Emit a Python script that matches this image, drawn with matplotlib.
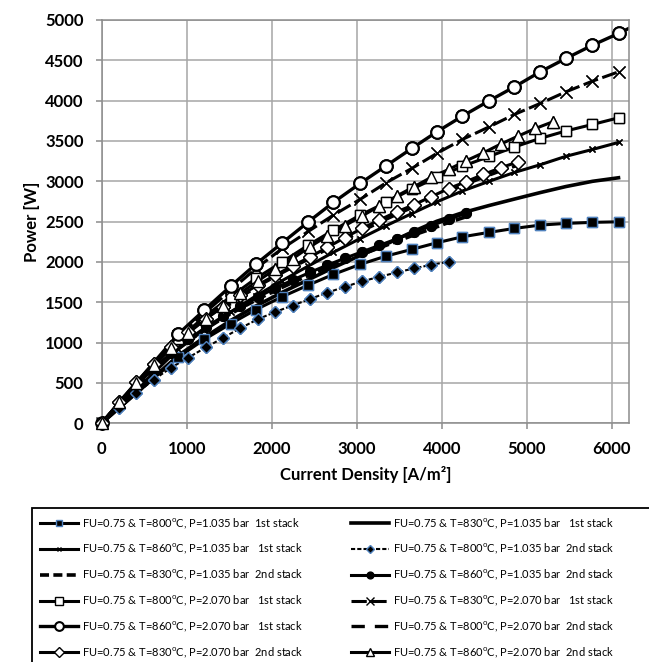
import matplotlib
matplotlib.use("Agg")
import matplotlib.pyplot as plt
from matplotlib.patches import Rectangle
import numpy as np

plt.rcParams['font.family'] = ['Lato', 'DejaVu Sans']
plt.rcParams['mathtext.fontset'] = 'custom'
plt.rcParams['mathtext.rm'] = 'Lato'

# current density points, 1st stack and 2nd stack
x_1st = [0, 901, 1207, 1518, 1815, 2125, 2431, 2725, 3039, 3345, 3647, 3941,
         4242, 4556, 4854, 5156, 5459, 5772, 6078]
x_2nd = [0, 204, 408, 612, 816, 1020, 1224, 1428, 1632, 1836, 2040, 2244, 2448,
         2652, 2856, 3060, 3264, 3468, 3672, 3876, 4080, 4284, 4488, 4692, 4896,
         5100, 5304]

# power [W]
p800_1035_1st = [0, 820, 1040, 1235, 1410, 1570, 1714, 1846, 1970, 2073, 2156, 2238,
                 2312, 2367, 2416, 2457, 2478, 2491, 2498]
p830_1035_1st = [0, 840, 1065, 1275, 1455, 1625, 1780, 1930, 2080, 2220, 2370, 2505,
                 2610, 2700, 2780, 2860, 2935, 3000, 3044]
p860_1035_1st = [0, 920, 1160, 1380, 1580, 1770, 1950, 2120, 2290, 2450, 2600, 2745,
                 2880, 3000, 3110, 3205, 3310, 3395, 3482]
p800_1035_2nd = [0, 190, 375, 540, 690, 815, 940, 1060, 1180, 1290, 1380, 1460, 1540,
                 1620, 1690, 1760, 1815, 1870, 1920, 1965, 2003]
p830_1035_2nd = [0, 240, 465, 670, 855, 1020, 1170, 1305, 1425, 1540, 1645, 1745, 1840,
                 1930, 2015, 2095, 2175, 2255, 2335, 2410, 2490, 2560]
p860_1035_2nd = [0, 245, 470, 680, 870, 1040, 1190, 1325, 1450, 1565, 1675, 1775, 1870,
                 1960, 2045, 2125, 2205, 2285, 2370, 2450, 2530, 2602]
p800_2070_1st = [0, 1040, 1320, 1570, 1797, 2002, 2209, 2395, 2581, 2738, 2903, 3048,
                 3185, 3308, 3426, 3532, 3624, 3705, 3787]
p830_2070_1st = [0, 1080, 1365, 1650, 1920, 2168, 2380, 2581, 2776, 2982, 3160, 3346,
                 3519, 3675, 3829, 3965, 4109, 4242, 4357]
x_860_2070_1st = x_1st + [6382]
p860_2070_1st = [0, 1107, 1404, 1701, 1974, 2238, 2498, 2739, 2974, 3192, 3408, 3613,
                 3808, 3998, 4171, 4357, 4523, 4688, 4833, 4990]
p800_2070_2nd = [0, 255, 500, 720, 920, 1100, 1265, 1420, 1565, 1700, 1820, 1935, 2045,
                 2160, 2275, 2385, 2490, 2590, 2685, 2780, 2875, 2965, 3050, 3130, 3200]
p830_2070_2nd = [0, 260, 510, 740, 950, 1130, 1295, 1445, 1585, 1715, 1835, 1950, 2060,
                 2180, 2300, 2415, 2520, 2620, 2710, 2810, 2910, 2995, 3085, 3167, 3242]
p860_2070_2nd = [0, 260, 500, 725, 930, 1120, 1295, 1460, 1615, 1765, 1910, 2040, 2188,
                 2321, 2449, 2569, 2693, 2817, 2932, 3050, 3147, 3254, 3353, 3461, 3560,
                 3655, 3737]

labels = [
    "FU=0.75 & T=800$^{\\mathrm{o}}$C, P=1.035 bar  1st stack",
    "FU=0.75 & T=830$^{\\mathrm{o}}$C, P=1.035 bar   1st stack",
    "FU=0.75 & T=860$^{\\mathrm{o}}$C, P=1.035 bar   1st stack",
    "FU=0.75 & T=800$^{\\mathrm{o}}$C, P=1.035 bar  2nd stack",
    "FU=0.75 & T=830$^{\\mathrm{o}}$C, P=1.035 bar  2nd stack",
    "FU=0.75 & T=860$^{\\mathrm{o}}$C, P=1.035 bar  2nd stack",
    "FU=0.75 & T=800$^{\\mathrm{o}}$C, P=2.070 bar   1st stack",
    "FU=0.75 & T=830$^{\\mathrm{o}}$C, P=2.070 bar   1st stack",
    "FU=0.75 & T=860$^{\\mathrm{o}}$C, P=2.070 bar   1st stack",
    "FU=0.75 & T=800$^{\\mathrm{o}}$C, P=2.070 bar  2nd stack",
    "FU=0.75 & T=830$^{\\mathrm{o}}$C, P=2.070 bar  2nd stack",
    "FU=0.75 & T=860$^{\\mathrm{o}}$C, P=2.070 bar  2nd stack",
]

blue = '#4f81bd'
series = [
    (x_1st, p800_1035_1st, dict(ls='-', lw=2.2, marker='s', ms=7, mfc='black', mec=blue, mew=1)),
    (x_1st, p830_1035_1st, dict(ls='-', lw=2.6)),
    (x_1st, p860_1035_1st, dict(ls='-', lw=2.2, marker='x', ms=5, mec='black', mew=1)),
    (x_2nd[:21], p800_1035_2nd, dict(ls=(0, (2, 1)), lw=1.5, marker='D', ms=6.5, mfc='black', mec=blue, mew=1)),
    (x_2nd[:22], p830_1035_2nd, dict(ls=(0, (2.5, 1.2)), lw=2.6)),
    (x_2nd[:22], p860_1035_2nd, dict(ls='-', lw=2.2, marker='o', ms=7, mfc='black', mec='black')),
    (x_1st, p800_2070_1st, dict(ls='-', lw=2.2, marker='s', ms=7.5, mfc='white', mec='black', mew=1)),
    (x_1st, p830_2070_1st, dict(ls=(0, (5, 1.5)), lw=2.2, marker='x', ms=8, mec='black', mew=1)),
    (x_860_2070_1st, p860_2070_1st, dict(ls='-', lw=2.4, marker='o', ms=9, mfc='white', mec='black', mew=1.5)),
    (x_2nd[:25], p800_2070_2nd, dict(ls=(0, (4, 3)), lw=2.4)),
    (x_2nd[:25], p830_2070_2nd, dict(ls='-', lw=2.2, marker='D', ms=7, mfc='white', mec='black', mew=1)),
    (x_2nd, p860_2070_2nd, dict(ls='-', lw=2.2, marker='^', ms=9, mfc='white', mec='black', mew=1)),
]

X_MAX = 6200

fig = plt.figure(figsize=(6.49, 6.62), dpi=100)
ax = fig.add_axes([0.1567, 0.3606, 0.8123, 0.6092])

handles = []
for (xs, ys, st), lab in zip(series, labels):
    h, = ax.plot(xs, ys, color='black', label=lab, **st)
    handles.append(h)
    # redraw the markers unclipped so the ones at 0 show fully
    if 'marker' in st:
        xs_a = np.array(xs)
        ys_a = np.array(ys)
        m = xs_a <= X_MAX
        mk = {k: v for k, v in st.items() if k not in ('ls', 'lw')}
        ax.plot(xs_a[m], ys_a[m], ls='none', color='black', clip_on=False, zorder=3, **mk)

ax.set_xlim(0, X_MAX)
ax.set_ylim(0, 5000)
ax.set_xticks(range(0, 7000, 1000))
ax.set_yticks(range(0, 5500, 500))
ax.grid(True, color='#a6a6a6', lw=1.1)
ax.set_axisbelow(True)
for s in ax.spines.values():
    s.set_color('#8c8c8c')
    s.set_linewidth(1.1)
ax.tick_params(direction='out', length=4, color='#8c8c8c', width=1.1, pad=9)
for t in ax.get_xticklabels() + ax.get_yticklabels():
    t.set_fontweight('bold')
    t.set_fontsize(12)

ax.set_xlabel("Current Density [A/m²]", fontsize=12, fontweight='bold', labelpad=6)
ax.set_ylabel("Power [W]", fontsize=12, fontweight='bold', labelpad=4)

# excel fills the legend row by row, matplotlib column by column
order = list(range(0, 12, 2)) + list(range(1, 12, 2))
leg = fig.legend([handles[i] for i in order], [labels[i] for i in order],
                 loc='upper left', bbox_to_anchor=(0.049, 0.2326),
                 ncol=2, fontsize=8, frameon=False,
                 handlelength=3.4, handletextpad=0.35, labelspacing=1.05, borderpad=0.75,
                 markerscale=0.7, borderaxespad=0, columnspacing=4.3)

fig.patches.append(Rectangle((0.049, -0.05), 1.0, 0.2826, transform=fig.transFigure,
                             fill=False, edgecolor='black', lw=1.3))

fig.savefig("out.png", dpi=100)
